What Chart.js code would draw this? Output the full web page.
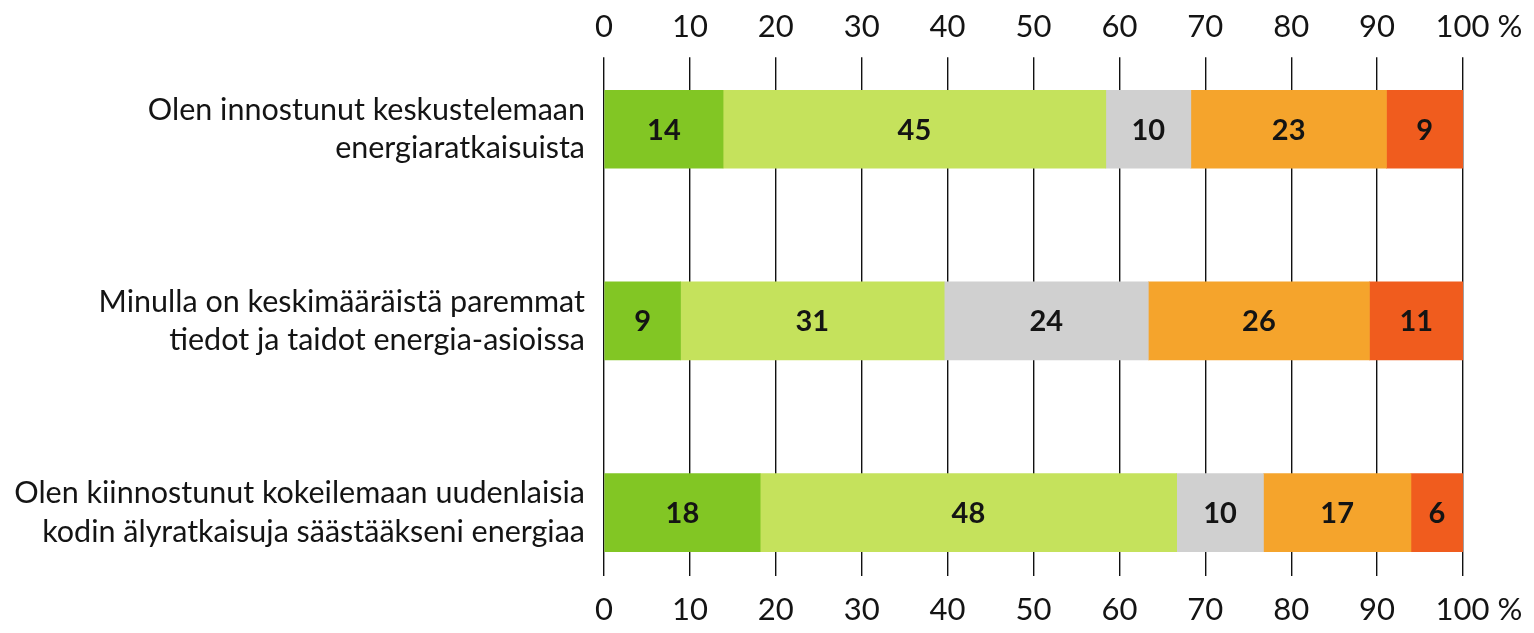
<!DOCTYPE html>
<html>
<head>
<meta charset="utf-8">
<script src="https://cdn.jsdelivr.net/npm/chart.js@4/dist/chart.umd.min.js"></script>
<style>
  body { margin: 0; background: #fff; }
</style>
</head>
<body>
<canvas id="chart" width="1534" height="633"></canvas>
<script>
const categories = [
    ['Olen innostunut keskustelemaan', 'energiaratkaisuista'],
    ['Minulla on keskimääräistä paremmat', 'tiedot ja taidot energia-asioissa'],
    ['Olen kiinnostunut kokeilemaan uudenlaisia', 'kodin älyratkaisuja säästääkseni energiaa']
];
// printed percentages, one array per answer option (rows sum to 99-101 because of rounding)
const option1 = [14, 9, 18];
const option2 = [45, 31, 48];
const option3 = [10, 24, 10];
const option4 = [23, 26, 17];
const option5 = [9, 11, 6];
const seriesColors = ['#82c624', '#c5e25c', '#d0d0d0', '#f5a42c', '#f05c1e'];
const xTickLabels = ['0', '10', '20', '30', '40', '50', '60', '70', '80', '90', '100 %'];

const allSeries = [option1, option2, option3, option4, option5];
const FONT = 'Lato';
const TEXT = '#141414';

// bars fill the full 0-100 width, so scale each row by its own total
const rowTotals = categories.map((c, i) => allSeries.reduce((s, arr) => s + arr[i], 0));

const datasets = allSeries.map((values, k) => ({
    data: values.map((v, i) => ({ x: v / rowTotals[i] * 100, y: i })),
    printed: values,
    backgroundColor: seriesColors[k],
    borderWidth: 0,
    barThickness: 78
}));

// draw the numbers in the middle of every segment
const valueLabels = {
    id: 'valueLabels',
    afterDatasetsDraw(chart) {
        const ctx = chart.ctx;
        ctx.save();
        ctx.font = 'bold 29px ' + FONT;
        ctx.fillStyle = TEXT;
        ctx.textAlign = 'center';
        ctx.textBaseline = 'middle';
        chart.data.datasets.forEach((ds, di) => {
            chart.getDatasetMeta(di).data.forEach((bar, i) => {
                const p = bar.getCenterPoint();
                ctx.fillText(ds.printed[i], p.x, p.y + 1);
            });
        });
        ctx.restore();
    }
};

// "100 %" sits with its number on the tick, so pad the front to balance the " %"
function xTickOpts(pad) {
    return {
        stepSize: 10,
        padding: pad,
        autoSkip: false,
        maxRotation: 0,
        minRotation: 0,
        color: TEXT,
        font: { family: FONT, size: 31 },
        callback: (v, i) => (i === xTickLabels.length - 1 ? '    ' : '') + xTickLabels[i]
    };
}

// keep the plot's right edge fixed whatever the last label's width
const fixRight = axis => { axis.paddingRight = 71; };

new Chart(document.getElementById('chart'), {
    type: 'bar',
    data: { datasets: datasets },
    plugins: [valueLabels],
    options: {
        indexAxis: 'y',
        responsive: false,
        animation: false,
        layout: { padding: { top: -11, bottom: -19, right: 71, left: 0 } },
        plugins: { legend: { display: false }, tooltip: { enabled: false } },
        scales: {
            x: {
                type: 'linear',
                position: 'bottom',
                min: 0,
                max: 100,
                stacked: true,
                border: { display: false },
                grid: { color: '#111', lineWidth: 1.4, drawTicks: false },
                afterFit: fixRight,
                ticks: xTickOpts(16)
            },
            x2: {
                type: 'linear',
                position: 'top',
                min: 0,
                max: 100,
                border: { display: false },
                grid: { display: false, drawTicks: false },
                afterFit: fixRight,
                ticks: xTickOpts(12)
            },
            y: {
                type: 'linear',
                offset: false,
                reverse: true,
                min: -0.376,
                max: 2.33,
                stacked: true,
                border: { display: false },
                grid: { display: false, drawTicks: false },
                afterBuildTicks: axis => {
                    axis.ticks = categories.map((c, i) => ({ value: i }));
                },
                afterFit: axis => { axis.width = 604; },
                ticks: {
                    padding: 19,
                    color: TEXT,
                    font: { family: FONT, size: 30.5, lineHeight: 1.25 },
                    callback: v => categories[v]
                }
            }
        }
    }
});
</script>
</body>
</html>
